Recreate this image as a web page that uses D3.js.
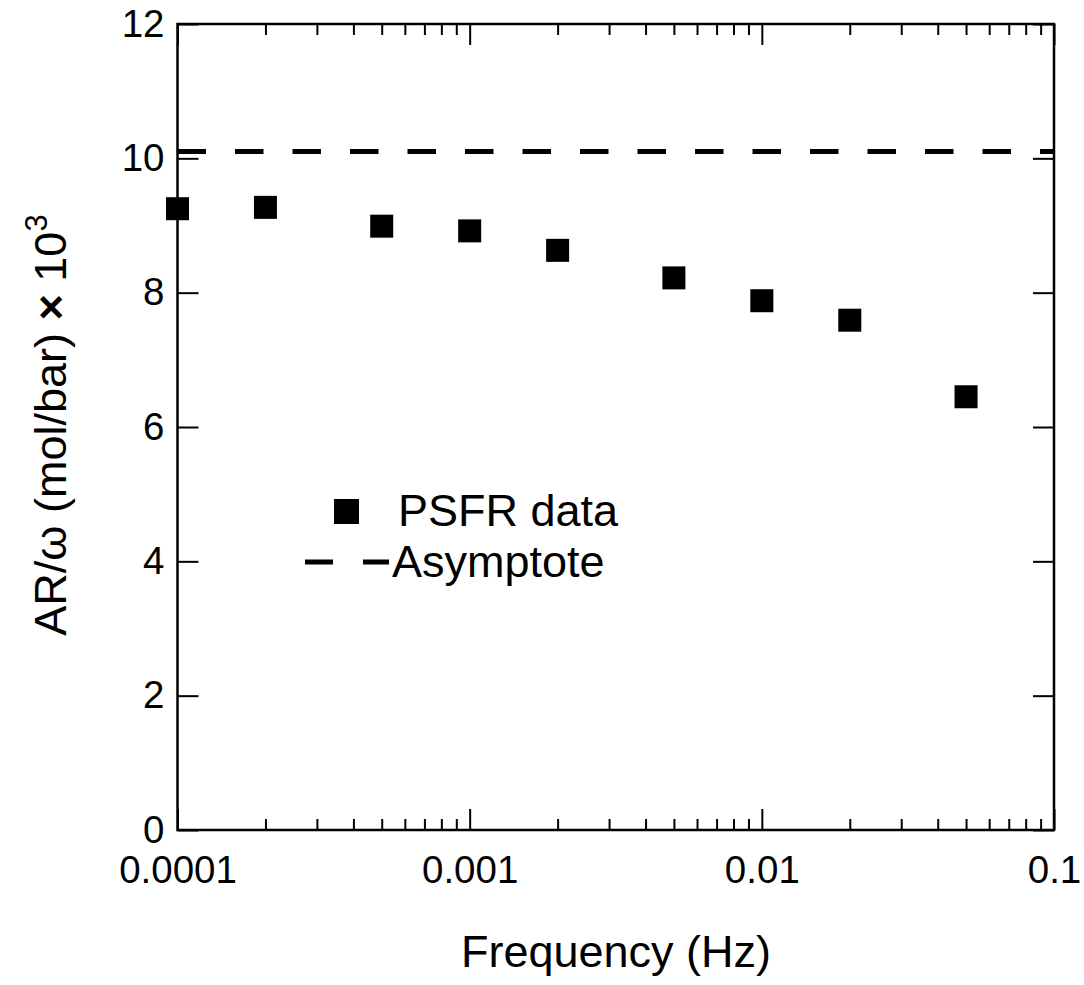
<!DOCTYPE html>
<html>
<head>
<meta charset="utf-8">
<script src="https://d3js.org/d3.v7.min.js"></script>
<style>
  body { margin: 0; background: #fff; }
  text { font-family: "Liberation Sans", Arial, sans-serif; fill: #000; }
</style>
</head>
<body>
<script>
// data
var freq = [0.0001, 0.0002, 0.0005, 0.001, 0.002, 0.005, 0.01, 0.02, 0.05];
var arw = [9.25, 9.27, 8.99, 8.92, 8.63, 8.22, 7.88, 7.59, 6.45];
var asymptote = 10.1;
var xTicks = [0.0001, 0.001, 0.01, 0.1];
var xTickLabels = ["0.0001", "0.001", "0.01", "0.1"];
var yTicks = [0, 2, 4, 6, 8, 10, 12];

var W = 1084, H = 985;
var pL = 177.5, pR = 1054, pT = 24, pB = 830;

var svg = d3.select("body").append("svg")
    .attr("width", W).attr("height", H);

var x = d3.scaleLog().domain([0.0001, 0.1]).range([pL, pR]);
var y = d3.scaleLinear().domain([0, 12]).range([pB, pT]);

// minor ticks 2..9 each decade
var minor = [];
[0.0001, 0.001, 0.01].forEach(function (d) {
    for (var k = 2; k <= 9; k++) minor.push(d * k);
});

var tickFont = 38.5, labFont = 45;

// bottom axis
var gB = svg.append("g").attr("transform", "translate(0," + pB + ")");
gB.call(d3.axisBottom(x).tickValues(xTicks).tickSize(-21).tickFormat(function (d, i) { return xTickLabels[i]; }).tickPadding(26));
gB.append("g").call(d3.axisBottom(x).tickValues(minor).tickSize(-11).tickFormat(""));
// top axis
var gT = svg.append("g").attr("transform", "translate(0," + pT + ")");
gT.call(d3.axisTop(x).tickValues(xTicks).tickSize(-21).tickFormat(""));
gT.append("g").call(d3.axisTop(x).tickValues(minor).tickSize(-11).tickFormat(""));
// left axis
var gL = svg.append("g").attr("transform", "translate(" + pL + ",0)");
gL.call(d3.axisLeft(y).tickValues(yTicks).tickSize(-21).tickPadding(13));
// right axis
var gR = svg.append("g").attr("transform", "translate(" + pR + ",0)");
gR.call(d3.axisRight(y).tickValues(yTicks).tickSize(-21).tickFormat(""));

svg.selectAll(".domain").remove();
svg.selectAll(".tick line").attr("stroke", "#000").attr("stroke-width", 2);
svg.selectAll(".tick text").style("font-size", tickFont + "px")
    .style("font-family", "'Liberation Sans', Arial, sans-serif");

// frame
svg.append("rect")
    .attr("x", pL).attr("y", pT)
    .attr("width", pR - pL).attr("height", pB - pT)
    .attr("fill", "none").attr("stroke", "#000").attr("stroke-width", 2.5);

// asymptote
svg.append("line")
    .attr("x1", pL).attr("x2", pR)
    .attr("y1", y(asymptote)).attr("y2", y(asymptote))
    .attr("stroke", "#000").attr("stroke-width", 5)
    .attr("stroke-dasharray", "28.5,29");

// points
var s = 23;
svg.selectAll(".pt").data(freq).enter().append("rect")
    .attr("class", "pt")
    .attr("x", function (d) { return x(d) - s / 2; })
    .attr("y", function (d, i) { return y(arw[i]) - s / 2; })
    .attr("width", s).attr("height", s)
    .attr("fill", "#000");

// legend
svg.append("rect").attr("x", 334).attr("y", 499).attr("width", 25).attr("height", 25).attr("fill", "#000");
svg.append("text").attr("x", 398).attr("y", 526).style("font-size", labFont + "px").text("PSFR data");
svg.append("line").attr("x1", 305).attr("x2", 389).attr("y1", 562).attr("y2", 562)
    .attr("stroke", "#000").attr("stroke-width", 5).attr("stroke-dasharray", "28,30");
svg.append("text").attr("x", 392).attr("y", 577).style("font-size", labFont + "px").text("Asymptote");

// axis titles
svg.append("text").attr("x", 616).attr("y", 967)
    .attr("text-anchor", "middle")
    .style("font-size", labFont + "px").text("Frequency (Hz)");

var yl = svg.append("text")
    .attr("transform", "translate(66,425) rotate(-90)")
    .attr("text-anchor", "middle")
    .style("font-size", labFont + "px");
yl.append("tspan").text("AR/\u03c9 (mol/bar) ");
yl.append("tspan").style("font-weight", "bold").text("\u00d7");
yl.append("tspan").text(" 10");
yl.append("tspan").attr("dy", "-0.6em").style("font-size", "31px").text("3");
</script>
</body>
</html>
